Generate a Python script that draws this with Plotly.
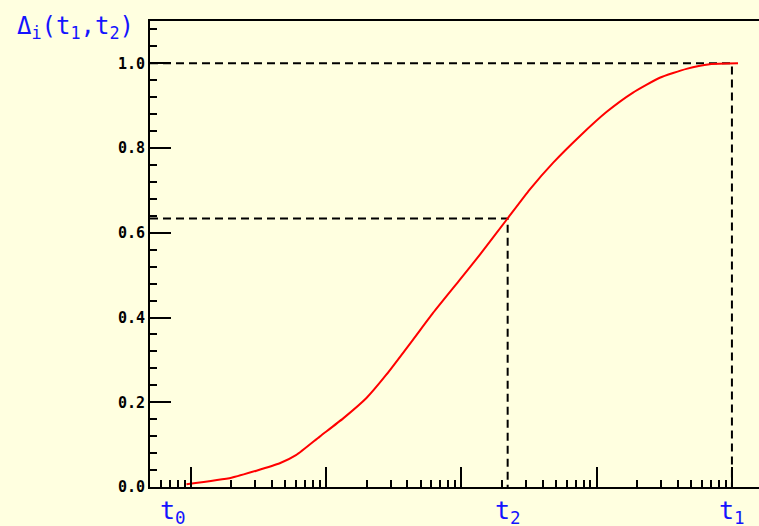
import numpy as np
import plotly.graph_objects as go

# curve data (time on log axis, Delta_i value)
t_vals = [0.93, 2.0, 3.06, 4.55, 6.04, 8.98, 13.4, 19.9, 27.9, 44.0, 61.8, 97.3,
          136.8, 221, 320, 476, 750, 1181, 1858, 2926, 4612, 6855, 11090]
d_vals = [0.0065, 0.022, 0.0385, 0.056, 0.0757, 0.119, 0.162, 0.210, 0.265, 0.348,
          0.411, 0.489, 0.548, 0.635, 0.702, 0.765, 0.828, 0.885, 0.931, 0.966,
          0.987, 0.998, 1.0]

# marked times and levels
t0 = 0.736
t2 = 220.0
t1 = 10000.0
d_t2 = 0.634
d_t1 = 1.0
t_labels = ["t<sub>0</sub>", "t<sub>2</sub>", "t<sub>1</sub>"]
t_marks = [t0, t2, t1]

x_min = 0.5
y_ticks = [0.0, 0.2, 0.4, 0.6, 0.8, 1.0]
x_major = [1, 10, 100, 1000, 10000]
x_minor = [m * 10.0 ** e for e in range(-1, 5) for m in range(2, 10)]

BG = "#FFFFE0"
BLUE = "#1414FF"

fig = go.Figure()

# dashed guide lines
fig.add_trace(go.Scatter(x=[x_min, t1, t1], y=[d_t1, d_t1, 0], mode="lines",
                         line=dict(color="black", width=2, dash="8px,5px"),
                         hoverinfo="skip", showlegend=False))
fig.add_trace(go.Scatter(x=[x_min, t2, t2], y=[d_t2, d_t2, 0], mode="lines",
                         line=dict(color="black", width=2, dash="8px,5px"),
                         hoverinfo="skip", showlegend=False))

# curve
fig.add_trace(go.Scatter(x=t_vals, y=d_vals, mode="lines",
                         line=dict(color="#FF0000", width=2, shape="spline", smoothing=0.5),
                         showlegend=False))

annotations = []
for lab, tm in zip(t_labels, t_marks):
    annotations.append(dict(x=np.log10(tm), xref="x", y=-0.016, yref="paper",
                            text=lab, showarrow=False, xanchor="center", yanchor="top",
                            font=dict(family="DejaVu Sans Mono", size=25, color=BLUE)))
annotations.append(dict(x=-0.222, xref="paper", y=1.024, yref="paper",
                        text="Δ<sub>i</sub>(t<sub>1</sub>,t<sub>2</sub>)",
                        showarrow=False, xanchor="left", yanchor="top",
                        font=dict(family="DejaVu Sans Mono", size=24, color=BLUE)))

log_left = np.log10(x_min)
fig.update_layout(
    width=759, height=526,
    margin=dict(l=150, r=0, t=21, b=39),
    paper_bgcolor=BG, plot_bgcolor=BG,
    annotations=annotations,
    xaxis=dict(type="log", range=[log_left, log_left + 609 / 135.3],
               showgrid=False, zeroline=False,
               showline=True, linecolor="black", linewidth=2, mirror=True,
               tickmode="array", tickvals=x_major, showticklabels=False,
               ticks="inside", ticklen=20, tickwidth=2, tickcolor="black",
               minor=dict(tickmode="array", tickvals=x_minor, ticks="inside",
                          ticklen=7, tickwidth=2, tickcolor="black", showgrid=False)),
    yaxis=dict(range=[0, 1.1], showgrid=False, zeroline=False,
               showline=True, linecolor="black", linewidth=2, mirror=False,
               tickmode="array", tickvals=y_ticks, tickformat=".1f",
               ticks="inside", ticklen=21, tickwidth=2, tickcolor="black",
               tickfont=dict(family="DejaVu Sans Mono", size=15, color="black", weight="bold"),
               minor=dict(dtick=0.04, tick0=0, ticks="inside", ticklen=7,
                          tickwidth=2, tickcolor="black", showgrid=False)),
)

fig.write_html("out.html")
